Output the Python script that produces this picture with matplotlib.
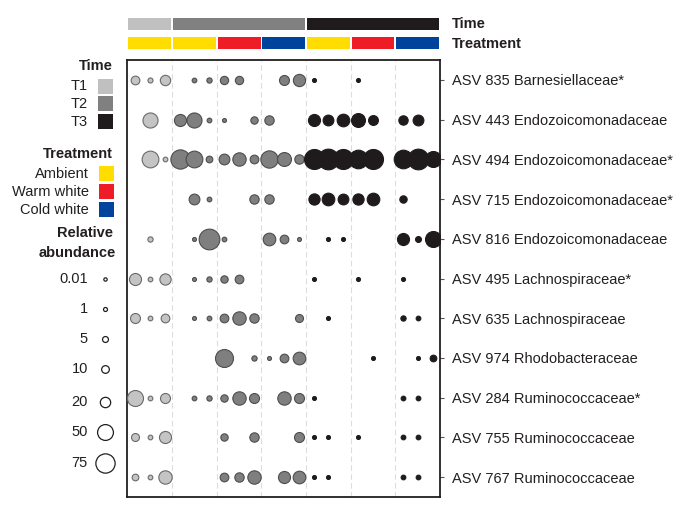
import numpy as np
import matplotlib
matplotlib.use("Agg")
import matplotlib.pyplot as plt
from matplotlib.patches import Rectangle

plt.rcParams['font.family'] = ['Liberation Sans', 'DejaVu Sans']

# ---------------- data ----------------
asv_labels = [
    "ASV 835 Barnesiellaceae*",
    "ASV 443 Endozoicomonadaceae",
    "ASV 494 Endozoicomonadaceae*",
    "ASV 715 Endozoicomonadaceae*",
    "ASV 816 Endozoicomonadaceae",
    "ASV 495 Lachnospiraceae*",
    "ASV 635 Lachnospiraceae",
    "ASV 974 Rhodobacteraceae",
    "ASV 284 Ruminococcaceae*",
    "ASV 755 Ruminococcaceae",
    "ASV 767 Ruminococcaceae",
]

sample_time = ["T1"] * 3 + ["T2"] * 9 + ["T3"] * 9
sample_treatment = (["Ambient"] * 3 +
                    ["Ambient"] * 3 + ["Warm white"] * 3 + ["Cold white"] * 3 +
                    ["Ambient"] * 3 + ["Warm white"] * 3 + ["Cold white"] * 3)

# relative abundance (%) per ASV (rows) and sample (columns); 0 = absent
abund_835 = [13.5, 3, 20, 0, 2.3, 3.5, 12, 12, 0, 0, 18.5, 29, 1, 0, 0, 1, 0, 0, 0, 0, 0]
abund_443 = [0, 45, 0, 28, 45, 2.3, 1, 0, 9, 16, 0, 0, 28, 22, 31, 38, 18, 0, 16, 22, 0]
abund_494 = [0, 56, 2.3, 75, 56, 7, 22, 35, 13.5, 60, 38, 16, 81, 87, 81, 70, 81, 0, 70, 87, 51]
abund_715 = [0, 0, 0, 0, 22, 2.3, 0, 0, 16, 16, 0, 0, 24, 31, 22, 24, 31, 0, 9, 0, 0]
abund_816 = [0, 3.5, 0, 0, 1, 87, 2.3, 0, 0, 31, 13.5, 1, 0, 1, 1, 0, 0, 0, 28, 5, 51]
abund_495 = [28, 2.3, 24, 0, 1, 3.5, 9, 13.5, 0, 0, 0, 0, 1, 0, 0, 1, 0, 0, 1, 0, 0]
abund_635 = [18.5, 2.3, 13.5, 0, 1, 2.3, 13.5, 35, 16, 0, 0, 11, 0, 1, 0, 0, 0, 0, 3.5, 2.3, 0]
abund_974 = [0, 0, 0, 0, 0, 0, 65, 0, 3.5, 1, 13.5, 31, 0, 0, 0, 0, 1, 0, 0, 1, 7]
abund_284 = [51, 2.3, 18.5, 0, 2.3, 3.5, 9, 35, 18.5, 0, 35, 18.5, 1, 0, 0, 0, 0, 0, 2.3, 2.3, 0]
abund_755 = [11, 2.3, 28, 0, 0, 0, 9, 0, 16, 0, 0, 18.5, 1, 1, 0, 1, 0, 0, 2.3, 2.3, 0]
abund_767 = [7, 2.3, 35, 0, 0, 0, 13.5, 16, 35, 0, 28, 31, 1, 1, 0, 0, 0, 0, 2.3, 2.3, 0]

abundance = [abund_835, abund_443, abund_494, abund_715, abund_816, abund_495,
             abund_635, abund_974, abund_284, abund_755, abund_767]

legend_sizes = [0.01, 1, 5, 10, 20, 50, 75]
legend_size_labels = ["0.01", "1", "5", "10", "20", "50", "75"]
time_levels = ["T1", "T2", "T3"]
treatment_levels = ["Ambient", "Warm white", "Cold white"]

# ---------------- styles ----------------
time_fill = {"T1": "#c4c4c4", "T2": "#7f7f7f", "T3": "#1f1b1c"}
time_edge = {"T1": "#6a6a6a", "T2": "#4d4d4d", "T3": "#1f1b1c"}
time_bar = {"T1": "#c0c0c0", "T2": "#808080", "T3": "#1f1b1c"}
treat_col = {"Ambient": "#ffdd00", "Warm white": "#ee1c25", "Cold white": "#00439c"}
TXT = "#231f20"
FS = 10.5


def size_pts(v):
    d_px = np.sqrt(11 + 4.8 * np.asarray(v, dtype=float))
    return (d_px * 0.72) ** 2


W, H = 690, 511
fig = plt.figure(figsize=(W / 100, H / 100), dpi=100)

# main axes (pixel box 127.5..440 x 60..497)
L, R, T, B = 127.5, 440, 60, 497
ax = fig.add_axes([L / W, 1 - B / H, (R - L) / W, (B - T) / H])
ncol = len(sample_time)
nrow = len(asv_labels)
ax.set_xlim(-0.5, ncol - 0.5)
ax.set_ylim(nrow - 0.5, -0.5)

# dashed separators between treatment groups
for j in range(1, ncol):
    if (sample_time[j], sample_treatment[j]) != (sample_time[j - 1], sample_treatment[j - 1]):
        ax.axvline(j - 0.5, color="#dddddd", lw=0.8, ls=(0, (5, 3)), zorder=0)

for i, row in enumerate(abundance):
    for j, v in enumerate(row):
        if v > 0:
            t = sample_time[j]
            ax.scatter(j, i, s=size_pts(v), facecolor=time_fill[t],
                       edgecolor=time_edge[t], linewidth=0.8, zorder=3)

ax.set_xticks([])
ax.yaxis.tick_right()
ax.set_yticks(range(nrow))
ax.set_yticklabels(asv_labels, fontsize=FS, color=TXT)
ax.tick_params(axis="y", length=3, width=0.8, pad=6, color="#555555")
for sp in ax.spines.values():
    sp.set_linewidth(1.3)
    sp.set_color("#231f20")

# header bars (share x with main axes)
hT, hB = 15, 52
hax = fig.add_axes([L / W, 1 - hB / H, (R - L) / W, (hB - hT) / H], sharex=ax)
hax.set_ylim(hB, hT)
hax.axis("off")


def groups(labels):
    out = []
    start = 0
    for j in range(1, len(labels) + 1):
        if j == len(labels) or labels[j] != labels[start]:
            out.append((labels[start], start, j))
            start = j
    return out


gap = 0.06
for lab, s, e in groups(sample_time):
    hax.add_patch(Rectangle((s - 0.5 + gap, 18), (e - s) - 2 * gap, 12,
                            facecolor=time_bar[lab], edgecolor="none"))
tr_key = [f"{a}|{b}" for a, b in zip(sample_time, sample_treatment)]
for lab, s, e in groups(tr_key):
    hax.add_patch(Rectangle((s - 0.5 + gap, 37), (e - s) - 2 * gap, 12,
                            facecolor=treat_col[lab.split("|")[1]], edgecolor="none"))

fig.text(451.5 / W, 1 - 24.5 / H, "Time", fontsize=FS, fontweight="bold",
         color=TXT, va="center", ha="left")
fig.text(451.5 / W, 1 - 43.5 / H, "Treatment", fontsize=FS, fontweight="bold",
         color=TXT, va="center", ha="left")

# ---------------- left legend ----------------
lax = fig.add_axes([0, 0, 1, 1], zorder=-1)
lax.set_xlim(0, W)
lax.set_ylim(H, 0)
lax.axis("off")

lax.text(113, 66, "Time", fontsize=FS, fontweight="bold", color=TXT,
         ha="right", va="center")
for k, t in enumerate(time_levels):
    y = 86.5 + k * 17.5
    lax.text(88, y, t, fontsize=FS, color=TXT, ha="right", va="center")
    lax.add_patch(Rectangle((97.5, y - 7.5), 15, 15, facecolor=time_bar[t], edgecolor="none"))

lax.text(113, 153.5, "Treatment", fontsize=FS, fontweight="bold", color=TXT,
         ha="right", va="center")
for k, t in enumerate(treatment_levels):
    y = 174 + k * 18
    lax.text(89, y, t, fontsize=FS, color=TXT, ha="right", va="center")
    lax.add_patch(Rectangle((98.5, y - 7.5), 15, 15, facecolor=treat_col[t], edgecolor="none"))

lax.text(113, 233, "Relative", fontsize=FS, fontweight="bold", color=TXT,
         ha="right", va="center")
lax.text(116, 253, "abundance", fontsize=FS, fontweight="bold", color=TXT,
         ha="right", va="center")
ys = [279, 309, 339, 369, 402, 432, 463]
for y, v, lab in zip(ys, legend_sizes, legend_size_labels):
    lax.text(88, y, lab, fontsize=FS, color=TXT, ha="right", va="center")
    lax.scatter(104.5, y, s=size_pts(v), facecolor="white", edgecolor="#231f20",
                linewidth=0.9)

fig.savefig("out.png", dpi=100)
